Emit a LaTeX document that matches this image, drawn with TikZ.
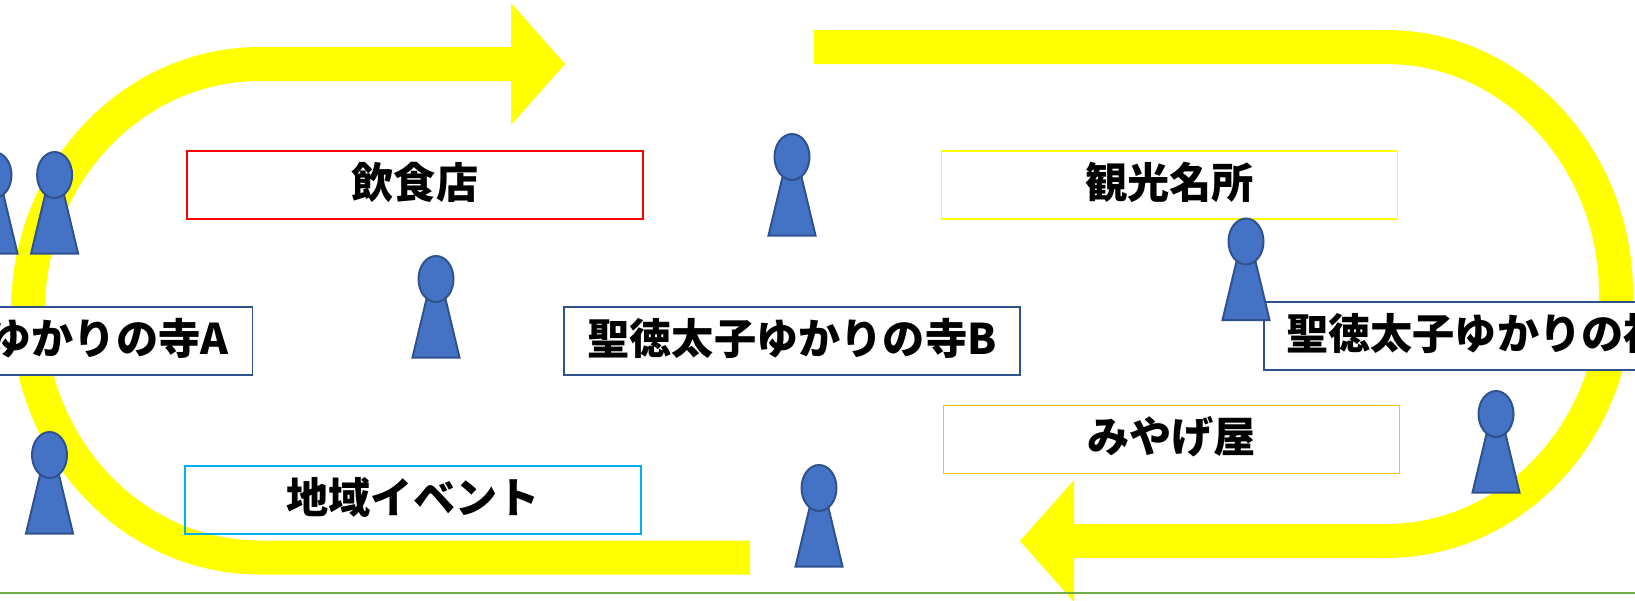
\documentclass[tikz,border=0pt]{standalone}
\usepackage{fontspec}
\newfontfamily\jp{Noto Sans CJK JP}
\newcommand{\lift}[1]{\raisebox{-13pt}[0pt][0pt]{#1}}
\definecolor{ypath}{HTML}{FFFF00}
\definecolor{pawnfill}{HTML}{4472C4}
\definecolor{pawnline}{HTML}{2F528F}
\definecolor{lineblue}{HTML}{2F528F}
\definecolor{linecyan}{HTML}{00B0F0}
\definecolor{lineorange}{HTML}{FFC000}
\definecolor{linegreen}{HTML}{70AD47}
\tikzset{
  x=1pt,y=-1pt,
  label box/.style={draw=#1,line width=1.75pt,minimum width=456pt,minimum height=68pt,inner sep=0pt,font=\jp\bfseries\fontsize{42.2}{42.2}\selectfont,text=black},
  route/.style={draw=ypath,line width=34pt,line cap=butt},
  head tip/.style={fill=ypath,draw=none},
  pawn part/.style={fill=pawnfill,draw=pawnline,line width=2pt},
  pawn/.pic={
    \path[pawn part] (-9,18) -- (9,18) -- (23.5,78.5) -- (-23.5,78.5) -- cycle;
    \path[pawn part] (0,0) ellipse [x radius=17.5pt,y radius=23pt];
  }
}
\begin{document}
\begin{tikzpicture}
\useasboundingbox (0,0) rectangle (1635,600);
\clip (0,0) rectangle (1635,600);
% left route
\draw[route] (750,557.5) -- (260,557.5) arc[start angle=90,end angle=270,x radius=232pt,y radius=-246.75pt] -- (511,64);
\fill[head tip] (511,3) -- (565,64) -- (511,125) -- cycle;
% right route
\draw[route] (814,47) -- (1386,47) arc[start angle=90,end angle=-90,x radius=230pt,y radius=247pt] -- (1074,541);
\fill[head tip] (1074,480) -- (1020,541) -- (1074,602) -- cycle;
% base line
\coordinate (gl) at (0,593);
\coordinate (gr) at (1635,593);
\draw[linegreen,line width=2pt] (gl) -- (gr);
% boxes
\node[label box=red] (food) at (415,185) {\lift{飲食店}};
\node[label box=ypath] (sight) at (1169.5,185) {\lift{観光名所}};
\node[label box=lineblue,fill=white] (ta) at (24.5,341) {\lift{聖徳太子ゆかりの寺A}};
\node[label box=lineblue,fill=white] (tb) at (792,341) {\lift{聖徳太子ゆかりの寺B}};
\node[label box=lineblue,fill=white] (sh) at (1492,336) {\lift{\hspace*{10pt}聖徳太子ゆかりの神社}};
\node[label box=linecyan] (ev) at (413,500) {\lift{地域イベント}};
\node[label box=lineorange] (mi) at (1171.5,439.5) {\lift{みやげ屋}};
% pawns
\foreach \n/\px/\py in {p1/-6/175,p2/54.6/175,p3/436/279,p4/49.5/455,p5/792/157,p6/1246/241.5,p7/1496/414,p8/819/488}
  \pic (\n) at (\px,\py) {pawn};
\end{tikzpicture}
\end{document}
